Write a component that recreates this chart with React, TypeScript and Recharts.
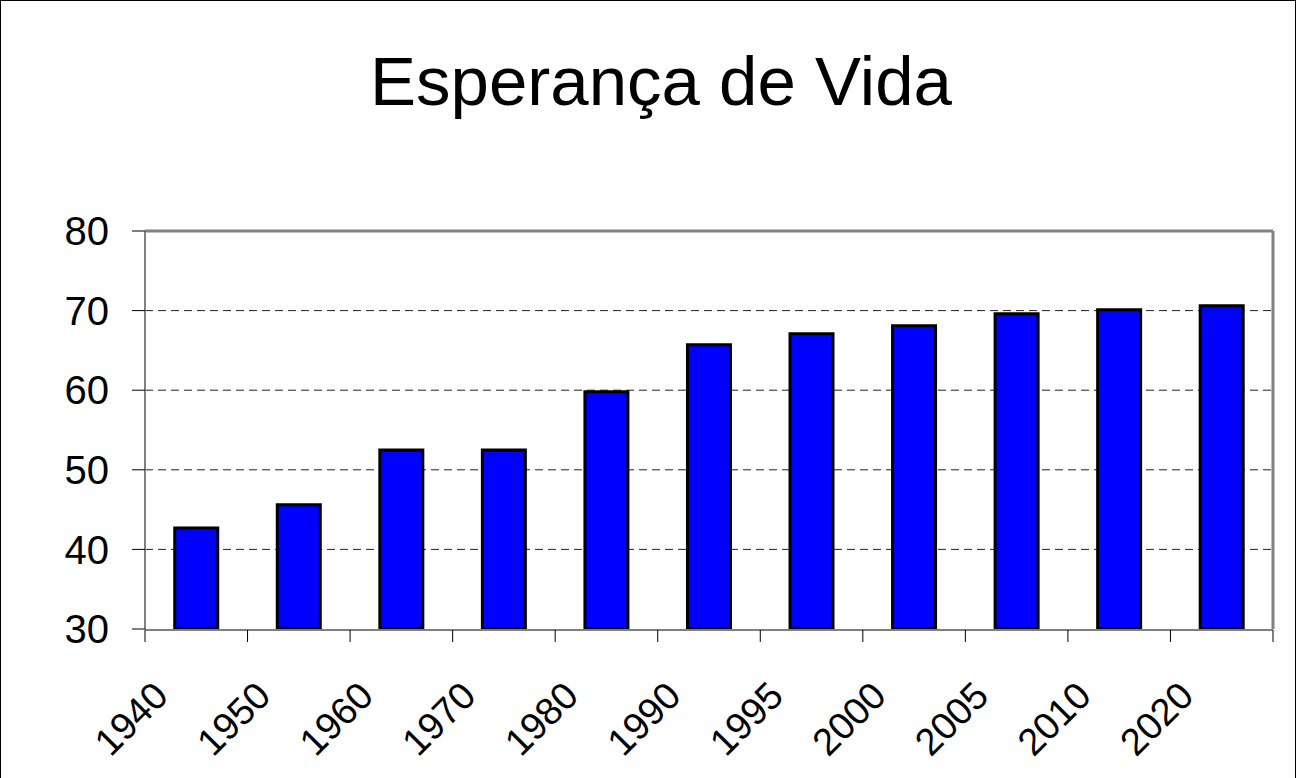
import React from 'react';
import {
  BarChart,
  Bar,
  XAxis,
  YAxis,
  CartesianGrid,
  ReferenceLine,
} from 'recharts';

const years = ['1940', '1950', '1960', '1970', '1980', '1990', '1995', '2000', '2005', '2010', '2020'];
const lifeExpectancy = [42.7, 45.6, 52.5, 52.5, 59.8, 65.7, 67.1, 68.1, 69.6, 70.1, 70.6];
const yTicks = [30, 40, 50, 60, 70, 80];
const gridValues = [40, 50, 60, 70];
// category boundaries, used for the tick marks between bars
const edgeTicks = years.map((_, i) => i).concat(years.length);

const FONT = '"Liberation Sans", Arial, sans-serif';

function YearTick({ x, y, payload }: { x?: number; y?: number; payload?: { value: string } }) {
  if (x == null || y == null || !payload) return null;
  const tx = x - 26;
  const ty = y + 61;
  return (
    <text
      x={tx}
      y={ty}
      transform={`rotate(-45, ${tx}, ${ty})`}
      textAnchor="end"
      fontSize={38}
      fontFamily={FONT}
      fill="#000"
    >
      {payload.value}
    </text>
  );
}

export default function App() {
  const data = years.map((year, i) => ({ year, value: lifeExpectancy[i], pos: i + 0.5 }));

  return (
    <div
      style={{
        position: 'absolute',
        left: 0,
        top: 0,
        width: 1296,
        height: 778,
        boxSizing: 'border-box',
        borderLeft: '1px solid #000',
        borderTop: '1px solid #000',
        borderRight: '1px solid #000',
        background: '#fff',
        overflow: 'hidden',
      }}
    >
      <div
        style={{
          position: 'absolute',
          left: 0,
          top: 46,
          width: 1296,
          paddingLeft: 24,
          boxSizing: 'border-box',
          textAlign: 'center',
          fontFamily: FONT,
          fontSize: 69,
          lineHeight: 1,
          color: '#000',
        }}
      >
        Esperança de Vida
      </div>
      <BarChart
        width={1296}
        height={778}
        data={data}
        margin={{ top: 230, right: 0, bottom: 148, left: 0 }}
        barCategoryGap="29%"
      >
        <CartesianGrid
          vertical={false}
          horizontalValues={gridValues}
          stroke="#222"
          strokeDasharray="8 5"
        />
        <XAxis
          dataKey="year"
          height={1}
          axisLine={false}
          tickLine={false}
          interval={0}
          tick={<YearTick />}
        />
        <XAxis
          xAxisId="edges"
          dataKey="pos"
          type="number"
          domain={[0, years.length]}
          allowDataOverflow
          ticks={edgeTicks}
          interval={0}
          tick={() => <g />}
          height={1}
          tickSize={12}
          tickLine={{ stroke: '#000' }}
          axisLine={{ stroke: '#808080', strokeWidth: 2 }}
        />
        <YAxis
          domain={[30, 80]}
          ticks={yTicks}
          width={144}
          tickSize={13}
          tickMargin={23}
          tickLine={{ stroke: '#000' }}
          axisLine={{ stroke: '#808080', strokeWidth: 2 }}
          tick={{ fontSize: 40, fontFamily: FONT, fill: '#000' }}
        />
        <YAxis
          yAxisId="right"
          orientation="right"
          width={24}
          tick={false}
          tickLine={false}
          axisLine={{ stroke: '#808080', strokeWidth: 3 }}
        />
        <ReferenceLine y={80} stroke="#808080" strokeWidth={3} />
        <Bar
          dataKey="value"
          fill="#0000FF"
          stroke="#000"
          strokeWidth={3}
          isAnimationActive={false}
        />
      </BarChart>
    </div>
  );
}
